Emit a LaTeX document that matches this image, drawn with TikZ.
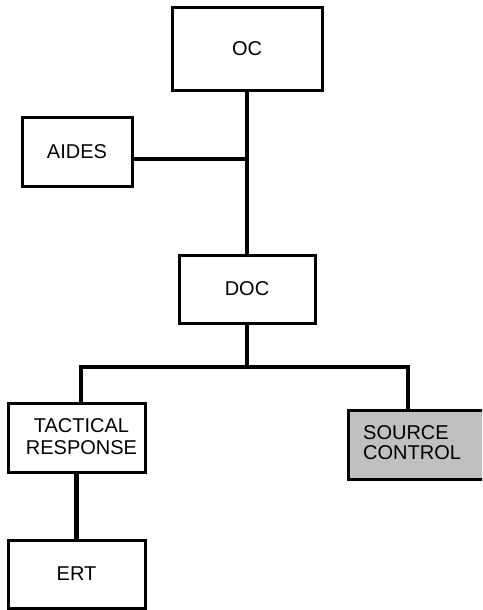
\documentclass[tikz,border=0pt]{standalone}
\usepackage{fontspec}
\setmainfont{Liberation Sans}
\definecolor{boxgray}{RGB}{192,192,192}
\begin{document}
\begin{tikzpicture}[x=1pt,y=-1pt,
  orgbox/.style={draw=black, line width=3pt, fill=white, rectangle,
    inner sep=0pt, font=\fontsize{20}{22}\selectfont, align=center},
  conn/.style={draw=black, line width=4.5pt, line join=miter}]
  \useasboundingbox (0,0) rectangle (482,610);
  \clip (0,0) rectangle (482,610);

  % boxes
  \node[orgbox, minimum width=150pt, minimum height=82pt] (oc) at (247,49) {OC};
  \node[orgbox, minimum width=110pt, minimum height=69pt] (aides) at (77,151.5) {AIDES};
  \node[orgbox, minimum width=136pt, minimum height=68pt] (doc) at (247,289) {DOC};
  \node[orgbox, minimum width=137pt, minimum height=69pt] (tr) at (76.5,437.5) {};
  \node[orgbox, minimum width=137pt, minimum height=68pt] (ert) at (76.5,574) {ERT};
  \node[orgbox, fill=boxgray, minimum width=150pt, minimum height=69pt] (sc) at (423,444.5) {};

  % two-line labels
  \node[font=\fontsize{20}{22}\selectfont, align=center, inner sep=0pt] (trtext) at (81.5,437) {TACTICAL\\RESPONSE};
  \node[font=\fontsize{20}{20}\selectfont, align=left, inner sep=0pt, anchor=west] (sctext) at (363,442.5) {SOURCE\\CONTROL};

  % junction points
  \coordinate (j1) at (247,159);
  \coordinate (bl) at (81,367);
  \coordinate (bm) at (247,367);
  \coordinate (br) at (408,367);

  % connectors
  \draw[conn] (oc.south) -- (doc.north);
  \draw[conn, line width=4pt] (aides.east |- j1) -- (j1);
  \draw[conn] (doc.south) -- (bm);
  \draw[conn] (bl |- tr.north) -- (bl) -- (br) -- (br |- sc.north);
  \draw[conn] (tr.south) -- (ert.north);
\end{tikzpicture}
\end{document}
